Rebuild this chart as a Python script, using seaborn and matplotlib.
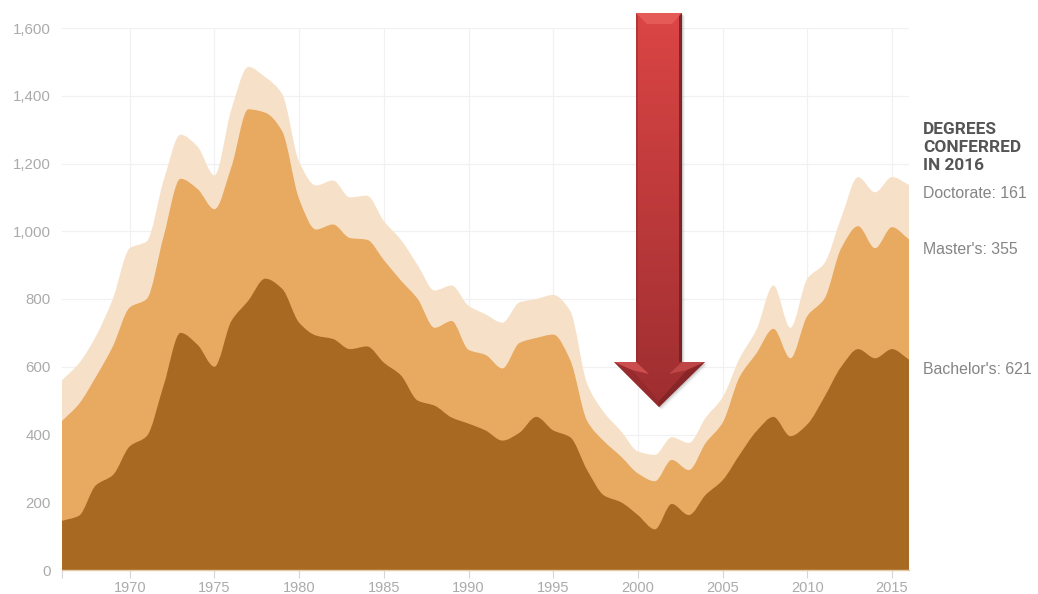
import numpy as np
import pandas as pd
import seaborn as sns
import matplotlib.pyplot as plt
from matplotlib.patches import Polygon, PathPatch
from matplotlib.path import Path

# values, cumulative tops of each band
years = list(range(1966, 2017))
bachelor_top = [145, 160, 250, 280, 365, 395, 545, 700, 665, 600,
                735, 795, 860, 830, 730, 692, 682, 652, 660, 612,
                575, 500, 485, 450, 432, 412, 382, 405, 452, 412,
                392, 295, 220, 200, 162, 120, 195, 162, 222, 265,
                340, 410, 452, 395, 430, 510, 600, 652, 625, 652, 621]
master_top = [440, 490, 570, 660, 775, 800, 985, 1155, 1125, 1065,
              1190, 1360, 1350, 1295, 1095, 1005, 1020, 980, 975, 915,
              855, 800, 715, 735, 650, 635, 595, 670, 685, 695,
              620, 440, 380, 335, 285, 262, 325, 295, 375, 435,
              570, 640, 712, 625, 750, 800, 950, 1015, 950, 1012, 976]
doctorate_top = [560, 610, 690, 800, 950, 970, 1150, 1285, 1250, 1165,
                 1360, 1485, 1455, 1405, 1205, 1135, 1150, 1100, 1105, 1030,
                 975, 900, 825, 840, 780, 755, 730, 790, 800, 812,
                 765, 550, 465, 410, 350, 340, 392, 375, 450, 510,
                 625, 710, 840, 715, 860, 905, 1040, 1160, 1115, 1160, 1137]

x_ticks = [1970, 1975, 1980, 1985, 1990, 1995, 2000, 2005, 2010, 2015]
y_ticks = [0, 200, 400, 600, 800, 1000, 1200, 1400, 1600]

c_bachelor = '#A86A22'
c_master = '#E8A961'
c_doctorate = '#F6E1C8'
c_tick = '#ABABAB'
c_label = '#858585'

sns.set_theme(style='white')
plt.rcParams['font.family'] = ['Liberation Sans', 'DejaVu Sans']

df = pd.DataFrame({'year': years, 'bachelor': bachelor_top,
                   'master': master_top, 'doctorate': doctorate_top})


def band_path(line):
    # closed bezier area under a line, flat tangents at peaks and dips
    xs, ys = line.get_xydata().T
    slopes = np.diff(ys) / np.diff(xs)
    tang = np.zeros_like(ys)
    same = slopes[:-1] * slopes[1:] > 0
    tang[1:-1][same] = (2 * slopes[:-1] * slopes[1:] / (slopes[:-1] + slopes[1:]))[same]
    tang[0], tang[-1] = slopes[0], slopes[-1]
    verts = [(xs[0], 0), (xs[0], ys[0])]
    codes = [Path.MOVETO, Path.LINETO]
    for i in range(len(xs) - 1):
        h = (xs[i + 1] - xs[i]) / 3
        verts += [(xs[i] + h, ys[i] + h * tang[i]),
                  (xs[i + 1] - h, ys[i + 1] - h * tang[i + 1]),
                  (xs[i + 1], ys[i + 1])]
        codes += [Path.CURVE4] * 3
    verts += [(xs[-1], 0), (xs[0], 0)]
    codes += [Path.LINETO, Path.CLOSEPOLY]
    return Path(verts, codes)


W, H = 1038, 594
fig = plt.figure(figsize=(W / 100, H / 100), dpi=100, facecolor='white')
ax = fig.add_axes([62 / W, 1 - 570 / H, (909 - 62) / W, (570 - 28) / H])

# back to front so each band covers the one behind it
for col, color in [('doctorate', c_doctorate), ('master', c_master), ('bachelor', c_bachelor)]:
    sns.lineplot(data=df, x='year', y=col, color=color, linewidth=0, ax=ax)
    ax.add_patch(PathPatch(band_path(ax.lines[-1]), fc=color, ec='none', zorder=3))

ax.set_xlim(1966, 2016)
ax.set_ylim(0, 1600)
ax.set_xlabel('')
ax.set_ylabel('')
ax.set_xticks([1966] + x_ticks)
ax.set_xticklabels([''] + [str(v) for v in x_ticks])
ax.set_yticks(y_ticks)
ax.set_yticklabels([f'{v:,}' for v in y_ticks])
ax.tick_params(axis='x', length=6, width=0.8, color='#D5D5D5', labelcolor=c_tick, labelsize=10.5, pad=2, bottom=True)
ax.tick_params(axis='y', length=0, labelcolor=c_tick, labelsize=10.8, pad=8)
ax.grid(True, color='#F1F1F1', linewidth=0.9, zorder=0)
ax.xaxis.get_gridlines()[0].set_visible(False)
ax.set_axisbelow(True)
for side in ['top', 'right', 'left']:
    ax.spines[side].set_visible(False)
ax.spines['bottom'].set_color('#E3C9A5')
ax.spines['bottom'].set_linewidth(1)
ax.spines['bottom'].set_zorder(4)

# overlay in pixel coordinates for the side notes and the arrow
over = fig.add_axes([0, 0, 1, 1], facecolor='none')
over.set_xlim(0, W)
over.set_ylim(H, 0)
over.axis('off')

for y, line in zip([129, 148, 166], ['DEGREES', 'CONFERRED', 'IN 2016']):
    over.text(923, y, line, family=['Roboto', 'DejaVu Sans'], fontweight='bold',
              fontsize=12.4, color='#555555', va='center', ha='left')
over.text(923, 194, 'Doctorate: 161', fontsize=11.4, color=c_label, va='center')
over.text(923, 249, "Master's: 355", fontsize=11.4, color=c_label, va='center')
over.text(923, 369, "Bachelor's: 621", fontsize=11.4, color=c_label, va='center')

# red arrow
outline = [(636, 13), (682, 13), (682, 362), (705, 362), (659, 407), (614, 362), (636, 362)]
for off, alpha in [(3, 0.04), (2, 0.07), (1, 0.1)]:
    over.add_patch(Polygon([(px + off, py + off) for px, py in outline], closed=True,
                           fc='black', alpha=alpha, ec='none', zorder=5))
body = Polygon(outline, closed=True, fc='none', ec='none', zorder=6)
over.add_patch(body)
shade = np.linspace(0, 1, 64).reshape(-1, 1)
start, end = np.array([0.86, 0.27, 0.27]), np.array([0.62, 0.18, 0.19])
grad = start + (end - start) * shade[..., None]
im = over.imshow(grad, extent=(610, 710, 410, 10), aspect='auto', zorder=6)
im.set_clip_path(body)
over.set_xlim(0, W)
over.set_ylim(H, 0)

# bevels along the arrow edges
bevels = [
    ([(636, 13), (682, 13), (672, 24), (647, 24)], '#E8605C', 0.8),
    ([(636, 13), (638, 16), (638, 362), (636, 362)], '#8E2C2C', 0.5),
    ([(682, 13), (679, 16), (679, 362), (682, 362)], '#6E1E20', 0.8),
    ([(614, 362), (636, 362), (649, 374), (632, 370)], '#D45352', 0.85),
    ([(705, 362), (682, 362), (669, 374), (687, 370)], '#C44A4A', 0.85),
    ([(614, 362), (632, 370), (659, 401), (659, 407)], '#8A2628', 0.45),
    ([(705, 362), (687, 370), (659, 401), (659, 407)], '#6E1D20', 0.5),
]
for pts, color, alpha in bevels:
    over.add_patch(Polygon(pts, closed=True, fc=color, ec='none', alpha=alpha, zorder=7))

fig.savefig('out.png', dpi=100, facecolor='white')
